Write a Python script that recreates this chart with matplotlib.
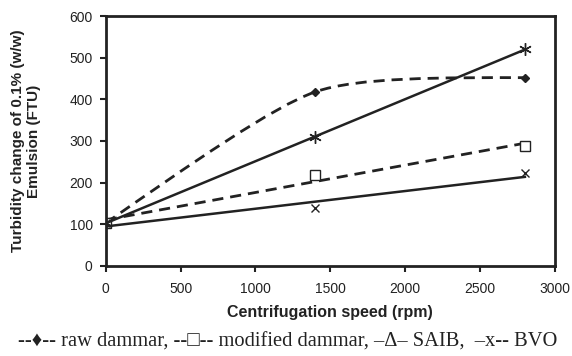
import matplotlib.pyplot as plt
import numpy as np
from matplotlib.path import Path
from matplotlib.patches import PathPatch

plt.rcParams['font.family'] = ['Liberation Sans', 'DejaVu Sans']

speed = [0, 1400, 2800]
raw_dammar = [103, 418, 452]
modified_dammar = [103, 218, 287]
saib = [103, 310, 520]
bvo = [103, 138, 222]


def trend(x, y):
    # linear trendline like the spreadsheet one
    k, b = np.polyfit(x, y, 1)
    xs = np.array([x[0], x[-1]])
    return xs, k * xs + b


def smooth_path(x, y):
    # smoothed line through the points, tight bends like the original
    pts = np.column_stack([x, y]).astype(float)
    n = len(pts)
    # handles at inner points
    tang = [None] * n
    for i in range(1, n - 1):
        tang[i] = (pts[i + 1] - pts[i - 1]) / 10
    verts = [pts[0]]
    codes = [Path.MOVETO]
    for i in range(n - 1):
        p1, p2 = pts[i], pts[i + 1]
        c2 = p2 - tang[i + 1] if tang[i + 1] is not None else None
        c1 = p1 + tang[i] if tang[i] is not None else None
        if c1 is None:
            c1 = p1 + (c2 - p1) * 0.5
        if c2 is None:
            c2 = p2 - (p2 - c1) * 0.5
        verts += [c1, c2, p2]
        codes += [Path.CURVE4] * 3
    return Path(verts, codes)


fig = plt.figure(figsize=(5.72, 3.56), dpi=100)
ax = fig.add_axes([0.185, 0.253, 0.785, 0.702])

dark = '#222222'
ax.add_patch(PathPatch(smooth_path(speed, raw_dammar), fill=False,
                       lw=2, ls=(0, (4, 2.5)), color=dark))
ax.plot(speed, raw_dammar, ls='none', marker='D', ms=4, color=dark)

xs, ys = trend(speed, modified_dammar)
ax.plot(xs, ys, lw=2, ls=(0, (4, 2.5)), color=dark)
ax.plot(speed, modified_dammar, ls='none', marker='s', ms=6.5,
        mfc='white', mec=dark, mew=1)

xs, ys = trend(speed, saib)
ax.plot(xs, ys, lw=1.8, color=dark)
ax.plot(speed, saib, ls='none', marker=(6, 2, 0), ms=9, mew=1, color=dark)

xs, ys = trend(speed, bvo)
ax.plot(xs, ys, lw=1.8, color=dark)
ax.plot(speed, bvo, ls='none', marker='x', ms=6, mew=1, color=dark)

ax.set_xlim(0, 3000)
ax.set_ylim(0, 600)
ax.set_xticks(np.arange(0, 3001, 500))
ax.set_yticks(np.arange(0, 601, 100))
ax.tick_params(direction='out', length=4.5, width=1.5, labelsize=10, colors=dark)
ax.tick_params(axis='x', pad=7)
ax.tick_params(axis='y', pad=5)
for s in ax.spines.values():
    s.set_linewidth(2)
    s.set_color(dark)

fig.text(0.5 * (0.185 + 0.97), 1 - 313 / 356, 'Centrifugation speed (rpm)',
         ha='center', va='center', fontsize=11.5, fontweight='bold', color=dark)
fig.text(26 / 572, 1 - 141 / 356, 'Turbidity change of 0.1% (w/w)\nEmulsion (FTU)',
         ha='center', va='center', rotation=90, fontsize=11, fontweight='bold',
         linespacing=1.1, multialignment='center', color=dark)

fig.text(288 / 572, 1 - 342 / 356,
         '--\u2666-- raw dammar, --\u25a1-- modified dammar, \u2013\u0394\u2013 SAIB,  \u2013x-- BVO',
         ha='center', va='center', fontsize=14.8, color=dark,
         family=['Liberation Serif', 'DejaVu Serif', 'DejaVu Sans'])

fig.savefig('out.png', dpi=100, facecolor='white')
